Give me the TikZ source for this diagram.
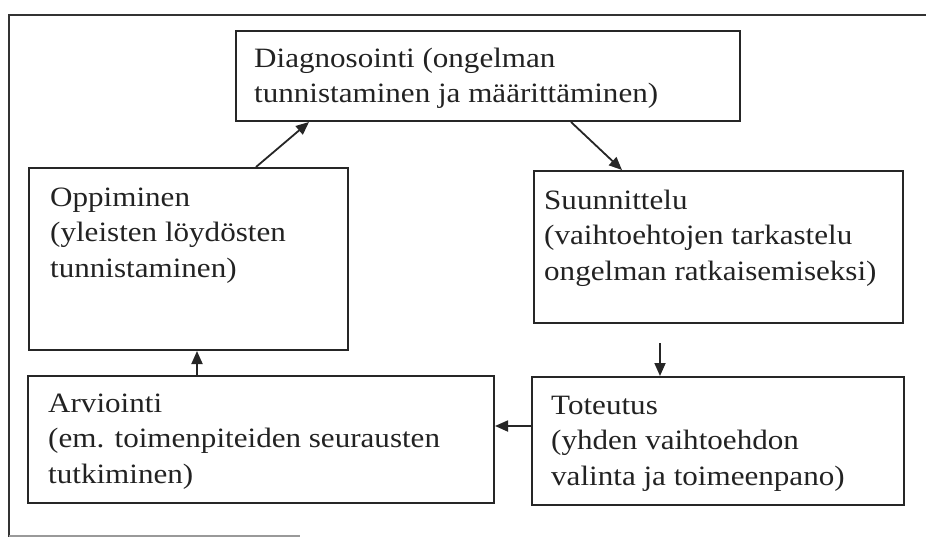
\documentclass[tikz,border=0pt]{standalone}
\usepackage{fontspec}
\setmainfont{Liberation Serif}[FakeStretch=1.11]
\usetikzlibrary{arrows.meta}
\definecolor{linec}{HTML}{262626}
\definecolor{txtc}{HTML}{222222}
\definecolor{framec}{HTML}{333333}
\tikzset{
  box/.style={draw=linec, line width=2pt, rectangle, inner sep=0pt},
  txt/.style={anchor=north west, inner sep=0pt, align=left, text=txtc,
              font=\fontsize{28}{35.5}\selectfont},
  arr/.style={draw=linec, line width=1.8pt, -{Triangle[length=13pt,width=11pt]}},
  frameline/.style={draw=framec, line width=2pt}
}
\newcommand{\fl}{\rule{0pt}{24pt}}
\begin{document}
\begin{tikzpicture}[x=1pt,y=-1pt]
\useasboundingbox (0,0) rectangle (926,538);
% frame
\draw[frameline] (926,15) -- (9,15) -- (9,537);
\draw[frameline, draw=gray!80, line width=1.6pt] (9,536) -- (300,536);
% boxes
\node[box, minimum width=504pt, minimum height=90pt] (diag) at (488,76) {};
\node[box, minimum width=319pt, minimum height=182pt] (opp) at (188.5,259) {};
\node[box, minimum width=369pt, minimum height=152pt] (suun) at (718.5,247) {};
\node[box, minimum width=466pt, minimum height=127pt] (arv) at (261,439.5) {};
\node[box, minimum width=372pt, minimum height=128pt] (tot) at (718,441) {};
% texts
\node[txt] (diagt) at ([xshift=19pt,yshift=-13pt]diag.north west)
  {\fl Diagnosointi (ongelman\\tunnistaminen ja määrittäminen)};
\node[txt] (oppt) at ([xshift=22pt,yshift=-15pt]opp.north west)
  {\fl Oppiminen\\(yleisten löydösten\\tunnistaminen)};
\node[txt] (suunt) at ([xshift=11pt,yshift=-15pt]suun.north west)
  {\fl Suunnittelu\\(vaihtoehtojen tarkastelu\\ongelman ratkaisemiseksi)};
\node[txt] (arvt) at ([xshift=21pt,yshift=-13pt]arv.north west)
  {\fl Arviointi\\(em. toimenpiteiden seurausten\\tutkiminen)};
\node[txt] (tott) at ([xshift=20pt,yshift=-14pt]tot.north west)
  {\fl Toteutus\\(yhden vaihtoehdon\\valinta ja toimeenpano)};
% connectors
\draw[arr] ([xshift=228pt]opp.north west) -- ([xshift=74pt]diag.south west);
\draw[arr] ([xshift=336pt]diag.south west) -- ([xshift=89pt]suun.north west);
\coordinate (suunout) at ([xshift=127pt,yshift=-19pt]suun.south west);
\draw[arr] (suunout) -- ([xshift=129pt]tot.north west);
\draw[arr] ([yshift=-50pt]tot.north west) -- ([yshift=-51pt]arv.north east);
\draw[arr] ([xshift=170pt,yshift=-1pt]arv.north west) -- ([xshift=169pt]opp.south west);
\end{tikzpicture}
\end{document}
